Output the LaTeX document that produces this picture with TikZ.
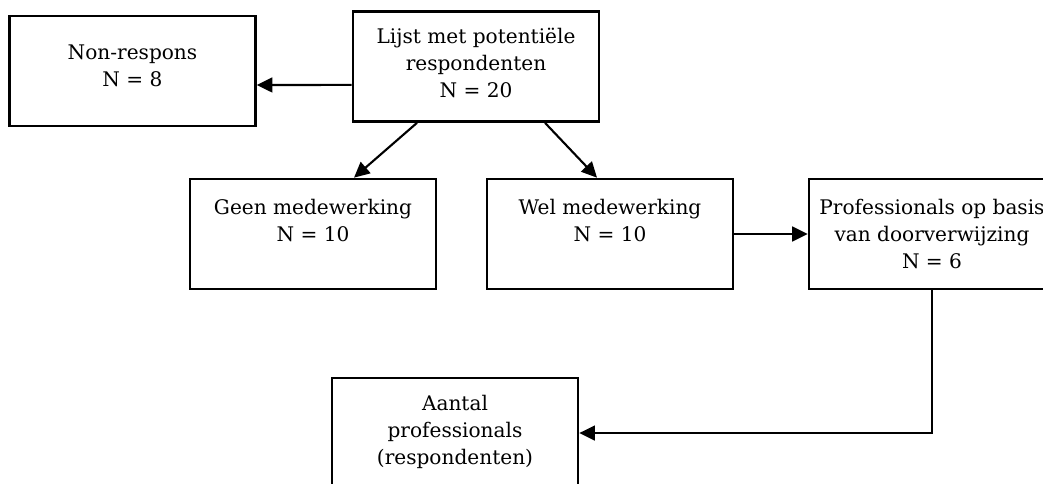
\documentclass[tikz,border=0pt]{standalone}
\usepackage{fontspec}
\setmainfont{DejaVu Serif}
\usepackage{tikz}
\usetikzlibrary{arrows.meta}

\begin{document}
\begin{tikzpicture}[x=0.025cm,y=-0.025cm,
	every node/.style={black},
	box/.style={draw,line width=1.9pt,inner sep=0pt,
		execute at begin node={\begin{minipage}[t][2.75cm][t]{6.15cm}\centering\fontsize{14.3}{19.2}\selectfont\vspace*{#1}},
		execute at end node={\end{minipage}}},
	box/.default=0.5cm,
	arrow/.style={line width=1.5pt,-{Triangle[length=11pt,width=10.5pt]}}]
	\useasboundingbox (0,0) rectangle (1043,483);

	\node[box=0.72cm] (nonresp) at (132.5,71) {Non-respons\\N = 8};
	\node[box=0.42cm] (lijst) at (476,66.5) {Lijst met potentiële\\respondenten\\N = 20};
	\node[box] (geen) at (313,234) {Geen medewerking\\N = 10};
	\node[box] (wel) at (610,234) {Wel medewerking\\N = 10};
	\node[box] (prof) at (932,234) {Professionals op basis\\van doorverwijzing\\N = 6};
	\node[box=0.42cm] (aantal) at (455,433) {Aantal\\professionals\\(respondenten)};

	\draw[arrow] ([yshift=-0.46cm]lijst.west) -- ([yshift=-0.35cm]nonresp.east);
	\draw[arrow] ([xshift=-1.475cm]lijst.south) -- ([xshift=1.025cm]geen.north);
	\draw[arrow] ([xshift=1.725cm]lijst.south) -- ([xshift=-0.325cm]wel.north);
	\draw[arrow] (wel.east) -- (prof.west);
	\draw[arrow] (prof.south) |- (aantal.east);
\end{tikzpicture}
\end{document}
